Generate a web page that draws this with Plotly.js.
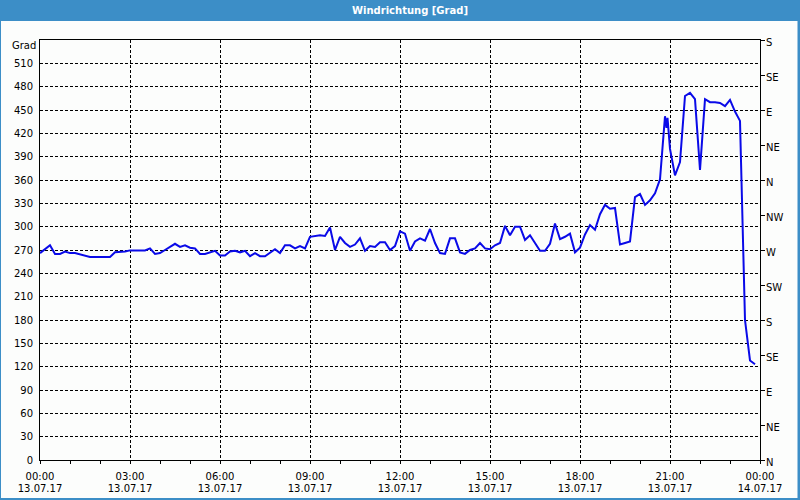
<!DOCTYPE html>
<html>
<head>
<meta charset="utf-8">
<script src="https://cdn.plot.ly/plotly-3.0.1.min.js"></script>
<style>
html,body{margin:0;padding:0;background:#fcfdfc;}
#chart{width:800px;height:500px;}
</style>
</head>
<body>
<div id="chart"></div>
<script>
// Time of day (13.07.17) and wind direction in degrees
const times = ["00:00","00:10","00:20","00:30","00:40","00:50","01:00","01:10","01:30","01:40","02:20","02:30","02:50","03:00","03:30","03:40","03:50","04:00","04:10","04:30","04:40","04:50","05:00","05:10","05:20","05:30","05:50","06:00","06:10","06:20","06:30","06:40","06:50","07:00","07:10","07:20","07:30","07:50","08:00","08:10","08:20","08:30","08:40","08:50","09:00","09:10","09:20","09:30","09:40","09:50","10:00","10:10","10:20","10:30","10:40","10:50","11:00","11:10","11:20","11:30","11:40","11:50","12:00","12:10","12:20","12:30","12:40","12:50","13:00","13:10","13:20","13:30","13:40","13:50","14:00","14:10","14:20","14:30","14:40","14:50","15:00","15:10","15:20","15:30","15:40","15:50","16:00","16:10","16:20","16:30","16:40","16:50","17:00","17:10","17:20","17:30","17:40","17:50","18:00","18:10","18:20","18:30","18:40","18:50","19:00","19:10","19:20","19:30","19:40","19:50","20:00","20:10","20:20","20:30","20:40","20:50","20:53","20:55","21:00","21:10","21:20","21:30","21:40","21:50","22:00","22:10","22:20","22:30","22:40","22:50","23:00","23:10","23:20","23:30","23:35","23:40","23:50"];
const direction = [266,271,276,265,265,268,266,266,262,261,261,267,268,269.5,269.5,272,265,266,270,278,274,276,273,272,265,265,269,263,263,268,269,267,269,262,266,262,262,271,266,276,276,272,275,272,287,288,289,288,299,270,287,279,274,277,285,269,275,274,280,280,270,275,294,291,269,281,285,282,297,279,266,265,285,285,267,265,270,272,279,272,271,276,279,301,289,300,300,283,289,279,269,269,278,304,284,287,291,267,273,290,302,296,316,328,323,324,277,279,281,338,342,328,334,343,361,442,427,440,400,366,383,468,472,464,373,464,460,460,459,455,463,448,436,180,150,128,123];

const day = "2017-07-13";
const xStart = "2017-07-13 00:00";
const xEnd = "2017-07-14 00:00";

const yTicks = [0,30,60,90,120,150,180,210,240,270,300,330,360,390,420,450,480,510];
const compassVals = [0,45,90,135,180,225,270,315,360,405,450,495,540];
const compassText = ["N","NE","E","SE","S","SW","W","NW","N","NE","E","SE","S"];

const titleText = "Windrichtung [Grad]";
const unitLabel = "Grad";

const xs = times.map(t => day + " " + t);

const FONT = "DejaVu Sans, Verdana, sans-serif";
const BLUE = "#3c8ec7";

// helpers: convert pixel coords to paper coords (plot area 40..760 x 40..460)
const px = x => (x - 40) / 720;
const py = y => (460 - y) / 420;

const traces = [
  {
    x: xs, y: direction, type: "scatter", mode: "lines",
    line: {color: "#0a0ae8", width: 2},
    hoverinfo: "skip", showlegend: false
  },
  {
    x: [xStart, xEnd], y: [null, null], xaxis: "x2", yaxis: "y2",
    type: "scatter", mode: "lines", hoverinfo: "skip", showlegend: false
  }
];

const gridDash = "3px,2px";

const compassAnnotations = compassVals.map((v, i) => ({
  xref: "paper", yref: "y", x: px(764), y: v, yshift: -2.5,
  xanchor: "left", yanchor: "middle", showarrow: false,
  text: compassText[i], font: {family: FONT, size: 10, color: "#000"}
}));

const layout = {
  width: 800, height: 500,
  margin: {l: 40, r: 40, t: 40, b: 40, pad: 0},
  paper_bgcolor: "#fcfdfc",
  plot_bgcolor: "#fcfdfc",
  showlegend: false,
  hovermode: false,
  title: {
    text: "<b>" + titleText + "</b>",
    font: {family: FONT, size: 10, color: "#ffffff"},
    x: 410 / 800, xanchor: "center", xref: "container",
    y: 1 - 10.5 / 500, yanchor: "middle", yref: "container"
  },
  xaxis: {
    type: "date", range: [xStart, xEnd],
    tick0: xStart, dtick: 3 * 3600000, tickformat: "%H:%M",
    showgrid: true, gridcolor: "#000", gridwidth: 1, griddash: gridDash,
    showline: true, linecolor: "#000", linewidth: 1, mirror: true,
    ticks: "outside", ticklen: 3, tickcolor: "#000", tickwidth: 1,
    ticklabelstandoff: 4,
    minor: {dtick: 3600000, ticks: "outside", ticklen: 3, tickcolor: "#000", showgrid: false},
    tickfont: {family: FONT, size: 10, color: "#000"},
    zeroline: false, fixedrange: true
  },
  xaxis2: {
    type: "date", range: [xStart, xEnd], overlaying: "x", anchor: "y", side: "bottom",
    tick0: xStart, dtick: 3 * 3600000, tickformat: "%d.%m.%y",
    showgrid: false, showline: false, ticks: "", ticklabelstandoff: 21,
    tickfont: {family: FONT, size: 10, color: "#000"},
    zeroline: false, fixedrange: true
  },
  yaxis: {
    range: [0, 540], tickmode: "array", tickvals: yTicks, ticktext: yTicks.map(String),
    showgrid: true, gridcolor: "#000", gridwidth: 1, griddash: gridDash,
    showline: true, linecolor: "#000", linewidth: 1,
    ticks: "", ticklabelstandoff: 4,
    tickfont: {family: FONT, size: 10, color: "#000"},
    zeroline: false, fixedrange: true
  },
  yaxis2: {
    range: [0, 540], overlaying: "y", side: "right", anchor: "x",
    tickmode: "array", tickvals: compassVals, ticktext: compassVals.map(() => ""),
    showgrid: false, showline: true, linecolor: "#000", linewidth: 1,
    ticks: "outside", ticklen: 4, tickcolor: "#000",
    tickfont: {family: FONT, size: 10, color: "#000"},
    zeroline: false, fixedrange: true
  },
  annotations: [
    {
      xref: "paper", yref: "paper", x: px(38), y: py(46),
      xanchor: "right", yanchor: "middle", showarrow: false,
      text: unitLabel, font: {family: FONT, size: 10, color: "#000"}
    }
  ].concat(compassAnnotations),
  shapes: [
    {type: "rect", xref: "paper", yref: "paper", x0: px(0), x1: px(800), y0: py(0), y1: py(21),
     fillcolor: BLUE, line: {width: 0}, layer: "below"},
    {type: "rect", xref: "paper", yref: "paper", x0: px(0), x1: px(1), y0: py(0), y1: py(500),
     fillcolor: BLUE, line: {width: 0}},
    {type: "rect", xref: "paper", yref: "paper", x0: px(797.5), x1: px(800), y0: py(0), y1: py(500),
     fillcolor: BLUE, line: {width: 0}},
    {type: "rect", xref: "paper", yref: "paper", x0: px(0), x1: px(800), y0: py(498), y1: py(500),
     fillcolor: BLUE, line: {width: 0}}
  ]
};

Plotly.newPlot("chart", traces, layout, {staticPlot: true, displayModeBar: false});
</script>
</body>
</html>
